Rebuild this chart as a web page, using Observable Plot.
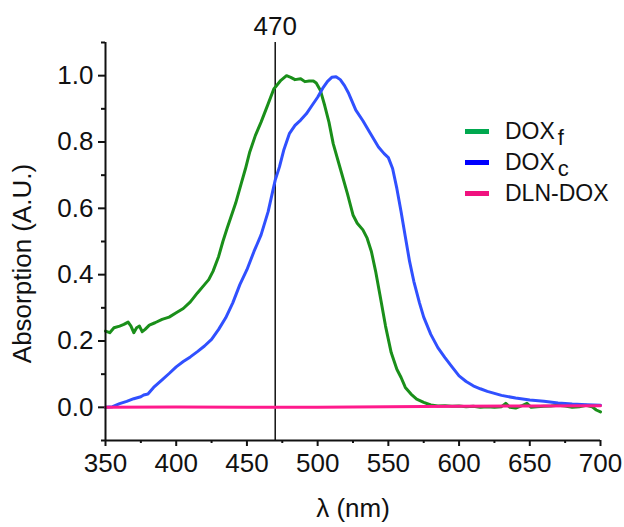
<!DOCTYPE html>
<html>
<head>
<meta charset="utf-8">
<script src="https://cdn.jsdelivr.net/npm/d3@7"></script>
<script src="https://cdn.jsdelivr.net/npm/@observablehq/plot@0.6"></script>
<style>
  html, body { margin: 0; padding: 0; background: #fff; }
  #wrap { position: relative; width: 624px; height: 527px; }
  #legend { position: absolute; left: 465px; top: 116px; font-family: "Liberation Sans", Arial, sans-serif; font-size: 23px; color: #111; }
  .row { position: absolute; left: 0; height: 31px; width: 160px; }
  .sw { position: absolute; left: 0; top: 13px; width: 24px; height: 5px; }
  .lab { position: absolute; left: 40px; top: 0; line-height: 31px; white-space: nowrap; }
  .sub { font-size: 22px; position: relative; top: 6px; margin-left: 3px; }
</style>
</head>
<body>
<div id="wrap"></div>
<script>
// ---- data ----
const doxfWl = [350,353,356,360,363,366,368,370,372,374,376,378,381,385,390,395,400,405,410,415,420,423,426,430,433,436,442,446,449,452,456,460,465,469,474,478,481,484,488,491,494,497,499,502,505,508,511,516,521,525,528,532,535,538,541,544,548,552,556,559,562,566,570,575,580,585,590,595,600,605,610,615,620,625,630,633,636,640,645,648,651,655,660,665,670,675,680,685,690,694,697,700];
const doxfAbs = [0.23,0.225,0.24,0.245,0.25,0.257,0.245,0.225,0.24,0.245,0.228,0.235,0.248,0.255,0.265,0.272,0.285,0.298,0.318,0.345,0.37,0.385,0.41,0.455,0.5,0.54,0.615,0.675,0.72,0.77,0.82,0.86,0.915,0.96,0.986,1.0,0.995,0.988,0.991,0.982,0.984,0.984,0.978,0.955,0.91,0.86,0.795,0.72,0.645,0.58,0.555,0.535,0.51,0.47,0.41,0.34,0.245,0.165,0.115,0.09,0.06,0.04,0.025,0.015,0.007,0.004,0.005,0.003,0.004,0.002,0.003,0.0,0.002,0.0,0.002,0.012,0.0,-0.002,0.006,0.012,0.0,0.002,0.003,0.004,0.006,0.004,0.0,0.002,0.006,0.002,-0.008,-0.014];

const doxcWl = [350,355,360,365,370,375,377,380,384,390,395,400,405,410,415,420,425,430,435,440,445,450,455,460,465,470,473,476,480,484,488,492,496,500,504,507,510,513,516,519,522,527,532,537,543,547,550,553,556,559,562,565,568,572,575,580,585,590,595,600,605,610,615,620,630,640,650,660,670,680,690,700];
const doxcAbs = [0.0,0.002,0.011,0.018,0.026,0.032,0.037,0.04,0.06,0.083,0.102,0.122,0.138,0.152,0.168,0.185,0.205,0.235,0.27,0.315,0.37,0.415,0.47,0.52,0.59,0.685,0.725,0.775,0.825,0.85,0.866,0.885,0.91,0.935,0.965,0.983,0.995,0.997,0.988,0.97,0.946,0.896,0.864,0.828,0.785,0.765,0.753,0.72,0.66,0.59,0.514,0.44,0.38,0.315,0.272,0.22,0.18,0.15,0.122,0.095,0.078,0.065,0.056,0.048,0.036,0.028,0.022,0.018,0.013,0.01,0.008,0.006];

const dlnWl = [350,400,450,500,550,600,650,700];
const dlnAbs = [0.0,0.001,0.0,0.0,0.002,0.003,0.004,0.005];

const seriesNames = ["DOXf", "DOXc", "DLN-DOX"];
const curveColors = ["#1a8f1a", "#3050ff", "#ff1a8c"];
const legendColors = ["#00a84f", "#0000ff", "#f0127f"];

const xTicks = [350,400,450,500,550,600,650,700];
const xMinor = [375,425,475,525,575,625,675];
const yTicks = [0.0,0.2,0.4,0.6,0.8,1.0];
const yMinor = [-0.1,0.1,0.3,0.5,0.7,0.9,1.1];
const markerWl = [470];
const xLabel = "λ (nm)";
const yLabel = "Absorption (A.U.)";

// ---- build ----
const toRows = (wl, ab, s) => wl.map((w, i) => ({wl: w, ab: ab[i], s}));
const rows = [
  ...toRows(doxfWl, doxfAbs, seriesNames[0]),
  ...toRows(doxcWl, doxcAbs, seriesNames[1]),
  ...toRows(dlnWl, dlnAbs, seriesNames[2])
];

const chart = Plot.plot({
  width: 624,
  height: 527,
  marginLeft: 105,
  marginRight: 24,
  marginTop: 42,
  marginBottom: 87,
  style: {fontFamily: "'Liberation Sans', Arial, sans-serif", fontSize: "26px", color: "#111", background: "#fff", overflow: "visible"},
  x: {domain: [350, 700]},
  y: {domain: [-0.1, 1.1]},
  color: {domain: seriesNames, range: curveColors},
  marks: [
    Plot.axisX(xTicks, {tickSize: 6, tickPadding: 7, strokeWidth: 2, label: null, fontSize: 26, tickFormat: d => String(d)}),
    Plot.axisX(xMinor, {tickSize: 3, strokeWidth: 2, text: null, label: null}),
    Plot.axisY(yTicks, {tickSize: 7, tickPadding: 5, strokeWidth: 2, label: null, fontSize: 26, tickFormat: d3.format(".1f")}),
    Plot.axisY(yMinor, {tickSize: 4, strokeWidth: 2, text: null, label: null}),
    Plot.ruleX(markerWl, {stroke: "#111", strokeWidth: 1.5}),
    Plot.line(rows, {x: "wl", y: "ab", z: "s", stroke: "s", strokeWidth: 3, curve: "linear"}),
    Plot.ruleX([350], {stroke: "#111", strokeWidth: 2}),
    Plot.ruleY([-0.1], {stroke: "#111", strokeWidth: 2}),
    Plot.text(markerWl, {x: d => d, frameAnchor: "top", lineAnchor: "middle", textAnchor: "middle", dy: -16, text: d => String(d), fontSize: 26, fill: "#111"}),
    Plot.text([xLabel], {frameAnchor: "bottom", lineAnchor: "middle", textAnchor: "middle", dy: 68, text: d => d, fontSize: 26, fill: "#111"}),
    Plot.text([yLabel], {frameAnchor: "left", lineAnchor: "middle", textAnchor: "middle", dx: -83, dy: 22, rotate: -90, text: d => d, fontSize: 26, fill: "#111"})
  ]
});

const wrap = document.getElementById("wrap");
wrap.appendChild(chart);

// legend
const legend = document.createElement("div");
legend.id = "legend";
const labelsHtml = ["DOX<span class=\"sub\">f</span>", "DOX<span class=\"sub\">c</span>", "DLN-DOX"];
const rowTops = [0, 30.5, 62];
seriesNames.forEach((n, i) => {
  const r = document.createElement("div");
  r.className = "row";
  r.style.top = rowTops[i] + "px";
  const sw = document.createElement("div");
  sw.className = "sw";
  sw.style.background = legendColors[i];
  const lab = document.createElement("div");
  lab.className = "lab";
  lab.innerHTML = labelsHtml[i];
  r.appendChild(sw);
  r.appendChild(lab);
  legend.appendChild(r);
});
wrap.appendChild(legend);
</script>
</body>
</html>
